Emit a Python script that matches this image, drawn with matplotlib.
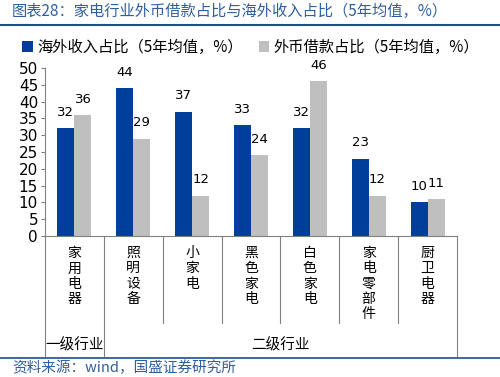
import matplotlib
matplotlib.use("Agg")
import matplotlib.pyplot as plt
import numpy as np

plt.rcParams['font.family'] = ['Noto Sans CJK SC', 'DejaVu Sans']

categories = ['家用电器', '照明设备', '小家电', '黑色家电', '白色家电', '家电零部件', '厨卫电器']
overseas = [32, 44, 37, 33, 32, 23, 10]
fx_loan = [36, 29, 12, 24, 46, 12, 11]
labels = ['海外收入占比（5年均值，%）', '外币借款占比（5年均值，%）']
yticks = [0, 5, 10, 15, 20, 25, 30, 35, 40, 45, 50]

blue = '#003E9C'
gray = '#BFBFBF'
title_blue = '#2F5F9E'

W, H = 500, 377
fig = plt.figure(figsize=(5, 3.77), dpi=100)

def fx(px):
    return px / W

def fy(py):
    return 1 - py / H

x0, x1, ytop, ybot = 45, 457, 68, 236
ax = fig.add_axes([fx(x0), fy(ybot), fx(x1 - x0), fy(ytop) - fy(ybot)])

x = np.arange(len(categories))
w = 0.29
b1 = ax.bar(x - w / 2, overseas, w, color=blue, label=labels[0])
b2 = ax.bar(x + w / 2, fx_loan, w, color=gray, label=labels[1])
for bars, vals in ((b1, overseas), (b2, fx_loan)):
    for r, v in zip(bars, vals):
        ax.text(r.get_x() + r.get_width() / 2, v + 2.8, str(v), ha='center', va='bottom',
                fontsize=9.5, family='DejaVu Sans')

ax.set_xlim(-0.5, len(categories) - 0.5)
ax.set_ylim(0, 50)
ax.set_yticks(yticks)
ax.set_yticklabels([str(t) for t in yticks], fontsize=11, family='DejaVu Sans')
ax.tick_params(axis='y', length=3, width=0.8, color='#808080', pad=2)
ax.set_xticks([])
for s in ['top', 'right']:
    ax.spines[s].set_visible(False)
ax.spines['left'].set_color('#808080')
ax.spines['bottom'].set_color('#808080')

# category labels (vertical) and group separators
gw = (x1 - x0) / len(categories)
for i, c in enumerate(categories):
    cx = x0 + gw * (i + 0.5)
    fig.text(fx(cx), fy(246), '\n'.join(c), ha='center', va='top', fontsize=10,
             linespacing=1.12)
for i in range(len(categories) + 1):
    px = x0 + gw * i
    end = 356 if i in (0, 1, len(categories)) else 323
    fig.add_artist(plt.Line2D([fx(px), fx(px)], [fy(ybot), fy(end)], color='#808080', lw=0.8))
fig.text(fx((x0 + x0 + gw) / 2), fy(345), '一级行业', ha='center', va='center', fontsize=10.5)
fig.text(fx((x0 + gw + x1) / 2), fy(345), '二级行业', ha='center', va='center', fontsize=10.5)

# title, rules, source
fig.text(fx(12), fy(11), '图表28：家电行业外币借款占比与海外收入占比（5年均值，%）', ha='left', va='center',
         fontsize=11, color=title_blue)
fig.add_artist(plt.Line2D([0, 1], [fy(25), fy(25)], color='#1F4E8C', lw=1.5))
fig.add_artist(plt.Line2D([0, 1], [fy(358), fy(358)], color='#1F4E8C', lw=1.2))
fig.text(fx(12), fy(368), '资料来源：wind，国盛证券研究所', ha='left', va='center', fontsize=10.5, color=title_blue)

fig.legend(handles=[b1, b2], labels=labels, loc='center', bbox_to_anchor=(fx(251), fy(47)), ncol=2,
           frameon=False, fontsize=11, handlelength=0.7, handleheight=0.7, handletextpad=0.3,
           columnspacing=1.0, borderaxespad=0)

fig.savefig('out.png', dpi=100)
